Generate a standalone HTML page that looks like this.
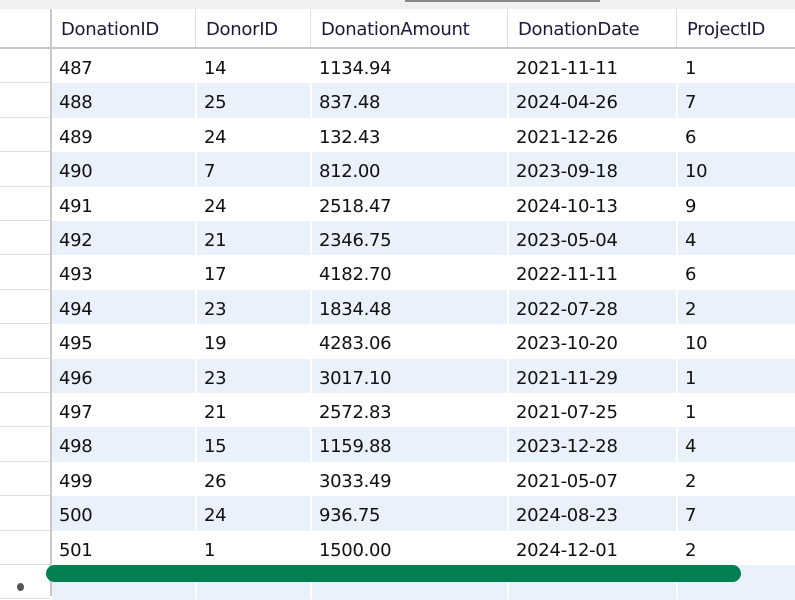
<!DOCTYPE html>
<html><head><meta charset="utf-8"><style>
body{margin:0;width:795px;height:596px;overflow:hidden;background:#fff;font-family:"DejaVu Sans","Liberation Sans",sans-serif;position:relative}
.a{position:absolute}
.c{position:absolute;font-size:18px;color:#111;white-space:nowrap;line-height:34px;letter-spacing:-0.3px}
</style></head><body>
<div class="a" style="left:0;top:0;width:795px;height:9px;background:#f0f0f0"></div>
<div class="a" style="left:405px;top:0;width:195px;height:2px;background:#888"></div>
<div id="grid"></div>
<div class="a" style="left:46px;top:565px;width:695px;height:17px;background:#037f51;border-radius:9px"></div>
<div class="a" style="left:17px;top:583px;width:7px;height:8px;background:#555;border-radius:50%"></div>
<script>
const headers=["DonationID","DonorID","DonationAmount","DonationDate","ProjectID"];
const rows=[
["487","14","1134.94","2021-11-11","1"],
["488","25","837.48","2024-04-26","7"],
["489","24","132.43","2021-12-26","6"],
["490","7","812.00","2023-09-18","10"],
["491","24","2518.47","2024-10-13","9"],
["492","21","2346.75","2023-05-04","4"],
["493","17","4182.70","2022-11-11","6"],
["494","23","1834.48","2022-07-28","2"],
["495","19","4283.06","2023-10-20","10"],
["496","23","3017.10","2021-11-29","1"],
["497","21","2572.83","2021-07-25","1"],
["498","15","1159.88","2023-12-28","4"],
["499","26","3033.49","2021-05-07","2"],
["500","24","936.75","2024-08-23","7"],
["501","1","1500.00","2024-12-01","2"]];
const colX=[50,195,310,507,676,795];
const g=document.getElementById('grid');
function add(css,name,inter,text,cls){const d=document.createElement('div');d.className=cls||'a';d.style.cssText=css;


if(text!==undefined)d.textContent=text;g.appendChild(d);return d;}
const top0=49,rh=34.4;
add('left:0;top:9px;width:795px;height:38px;background:#fff','header-row','false');
add('left:0;top:47px;width:795px;height:2px;background:#c8c8c8','header-border','false');
add('left:50px;top:9px;width:2px;height:587px;background:#c8c8c8','row-header-border','false');
for(let i=0;i<headers.length;i++){
 add('left:'+(colX[i]+11)+'px;top:13px;color:#1a1a3a','header-'+headers[i].toLowerCase(),'true',headers[i],'c');
 if(i>0)add('left:'+colX[i]+'px;top:9px;width:1px;height:38px;background:#e0e0e0','header-sep','false');
}
for(let r=0;r<=rows.length;r++){
 const y=top0+r*rh;
 const bg=(r%2==1||r==rows.length)?'#eaf1fb':'#fff';
 add('left:52px;top:'+y+'px;width:743px;height:'+(rh+0.5)+'px;background:'+bg,'row-'+r,'true');
 add('left:0;top:'+(y+rh-1)+'px;width:50px;height:1px;background:#e0e0e0','row-header-line','false');
 for(let i=1;i<5;i++)add('left:'+colX[i]+'px;top:'+y+'px;width:2px;height:'+rh+'px;background:#fff','cell-sep','false');
 if(r<rows.length)for(let i=0;i<5;i++)
  add('left:'+(colX[i]+9)+'px;top:'+(y+3)+'px','cell-'+headers[i].toLowerCase(),'true',rows[r][i],'c');
}
</script>
</body></html>
